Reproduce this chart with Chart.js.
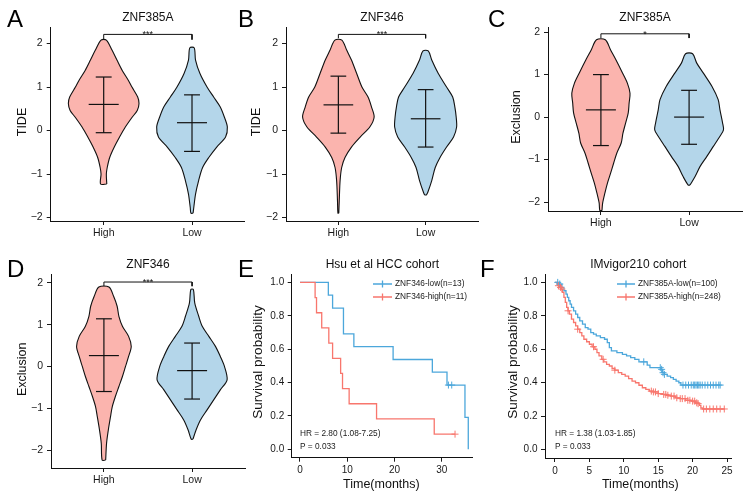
<!DOCTYPE html>
<html>
<head>
<meta charset="utf-8">
<script src="https://cdn.jsdelivr.net/npm/chart.js@4.4.1/dist/chart.umd.min.js"></script>
<style>
  html, body { margin: 0; padding: 0; background: #fff; }
  #wrap { position: relative; width: 751px; height: 496px; }
  #wrap canvas { position: absolute; left: 0; top: 0; }
</style>
</head>
<body>
<div id="wrap">
  <canvas id="cA" width="751" height="496"></canvas>
  <canvas id="cB" width="751" height="496"></canvas>
  <canvas id="cC" width="751" height="496"></canvas>
  <canvas id="cD" width="751" height="496"></canvas>
  <canvas id="cE" width="751" height="496"></canvas>
  <canvas id="cF" width="751" height="496"></canvas>
</div>
<script>
// ---- data ----
const groups = ["High", "Low"];
const violinYTicks = [-2, -1, 0, 1, 2];
const survYTicks = [0, 0.2, 0.4, 0.6, 0.8, 1.0];
const hsuXTicks = [0, 10, 20, 30];
const imvXTicks = [0, 5, 10, 15, 20, 25];

// violin outlines, bottom to top: [value, half width]
const tide385High = [[-1.23,0.035],[-1.0,0.03],[-0.85,0.04],[-0.62,0.068],[-0.38,0.12],[-0.15,0.18],[0.08,0.245],[0.3,0.32],[0.46,0.38],[0.62,0.40],[0.77,0.385],[1.0,0.32],[1.15,0.28],[1.38,0.21],[1.62,0.15],[1.85,0.094],[2.08,0.03]];
const tide385Low = [[-1.9,0.012],[-1.77,0.02],[-1.46,0.04],[-1.15,0.075],[-0.85,0.12],[-0.62,0.19],[-0.38,0.28],[-0.15,0.38],[0.08,0.40],[0.31,0.366],[0.54,0.32],[0.77,0.245],[1.0,0.17],[1.31,0.09],[1.62,0.04],[1.9,0.025]];
const tide346High = [[-1.9,0.005],[-1.62,0.01],[-1.15,0.02],[-0.85,0.038],[-0.62,0.076],[-0.38,0.15],[-0.15,0.25],[0.08,0.36],[0.31,0.41],[0.54,0.38],[0.77,0.34],[1.0,0.27],[1.31,0.21],[1.62,0.15],[1.85,0.095],[2.08,0.04]];
const tide346Low = [[-1.48,0.01],[-1.42,0.025],[-1.15,0.07],[-0.85,0.11],[-0.62,0.165],[-0.38,0.24],[-0.15,0.32],[0.08,0.355],[0.31,0.35],[0.54,0.335],[0.77,0.31],[1.0,0.24],[1.31,0.145],[1.62,0.07],[1.83,0.03]];
const excl385High = [[-2.2,0.012],[-2.02,0.02],[-1.79,0.045],[-1.55,0.075],[-1.32,0.11],[-1.08,0.145],[-0.85,0.18],[-0.61,0.23],[-0.38,0.25],[-0.14,0.28],[0.1,0.31],[0.33,0.32],[0.56,0.33],[0.8,0.30],[1.04,0.245],[1.35,0.17],[1.58,0.11],[1.82,0.05]];
const excl385Low = [[-1.6,0.01],[-1.4,0.068],[-1.16,0.125],[-0.93,0.2],[-0.69,0.275],[-0.45,0.35],[-0.3,0.39],[-0.14,0.38],[0.17,0.35],[0.41,0.33],[0.72,0.26],[1.04,0.16],[1.27,0.087],[1.49,0.04]];
const excl346High = [[-2.24,0.02],[-1.84,0.03],[-1.52,0.05],[-1.2,0.075],[-0.96,0.095],[-0.72,0.13],[-0.48,0.17],[-0.24,0.21],[0.0,0.245],[0.24,0.28],[0.48,0.31],[0.72,0.28],[0.96,0.21],[1.2,0.17],[1.44,0.15],[1.68,0.11],[1.9,0.057]];
const excl346Low = [[-1.74,0.01],[-1.52,0.045],[-1.28,0.095],[-1.04,0.17],[-0.8,0.245],[-0.56,0.32],[-0.32,0.397],[0.0,0.367],[0.24,0.32],[0.48,0.265],[0.72,0.19],[0.96,0.115],[1.2,0.075],[1.52,0.03],[1.84,0.015]];

// mean and mean +/- sd, [High, Low]
const tide385Mean = [0.6, 0.18],  tide385Upper = [1.23, 0.82],  tide385Lower = [-0.05, -0.48];
const tide346Mean = [0.59, 0.27], tide346Upper = [1.25, 0.94],  tide346Lower = [-0.06, -0.38];
const excl385Mean = [0.17, 0.0],  excl385Upper = [1.0, 0.63],   excl385Lower = [-0.67, -0.64];
const excl346Mean = [0.26, -0.1], excl346Upper = [1.14, 0.56],  excl346Lower = [-0.6, -0.78];

// Hsu et al HCC cohort
const hsuLowT  = [0, 6.0, 6.9, 9.2, 11.4, 19.7, 28.0, 31.1, 34.9, 35.6];
const hsuLowS  = [1, 0.923, 0.846, 0.692, 0.615, 0.538, 0.462, 0.385, 0.192, 0];
const hsuLowCensor = [31.4, 32.1];
const hsuHighT = [0, 3.2, 3.5, 4.6, 6.1, 6.9, 8.6, 9.0, 10.4, 16.2, 28.4, 32.8];
const hsuHighS = [1, 0.909, 0.818, 0.727, 0.636, 0.545, 0.455, 0.364, 0.273, 0.182, 0.091, 0.091];
const hsuHighCensor = [32.8];
const hsuLabels = ["ZNF346-low(n=13)", "ZNF346-high(n=11)"];
const hsuStats = ["HR = 2.80 (1.08-7.25)", "P = 0.033"];

// IMvigor210 cohort
const imvLowT = [0,0.6,1.0,1.3,1.6,1.8,2.0,2.2,2.4,2.7,3.0,3.3,3.6,4.0,4.4,4.8,5.2,5.6,6.0,6.6,7.2,7.6,7.9,8.2,9.0,9.8,10.4,11.0,11.6,12.2,13.4,13.8,15.4,15.6,15.9,16.3,16.8,17.2,17.6,18.0,18.3,24.0];
const imvLowS = [1,0.99,0.97,0.95,0.93,0.91,0.89,0.87,0.85,0.83,0.81,0.79,0.77,0.75,0.73,0.72,0.70,0.69,0.68,0.67,0.66,0.64,0.61,0.59,0.58,0.57,0.56,0.55,0.54,0.525,0.505,0.49,0.48,0.46,0.45,0.44,0.43,0.42,0.41,0.40,0.386,0.386];
const imvLowCensor = [0.4,0.7,12.9,15.3,15.5,15.7,15.9,18.6,19.0,19.4,19.8,20.1,20.3,20.5,20.7,20.9,21.1,21.4,21.8,22.2,22.6,23.0,23.4,23.8,24.0];
const imvHighT = [0,0.3,0.5,0.7,0.9,1.1,1.3,1.5,1.7,1.9,2.1,2.4,2.7,3.0,3.3,3.6,3.9,4.2,4.6,5.0,5.4,5.8,6.1,6.4,6.8,7.1,7.5,7.9,8.3,8.7,9.2,9.7,10.2,10.7,11.2,11.7,12.2,12.7,13.2,13.7,14.3,15.0,15.6,16.2,16.8,17.5,18.2,19.0,19.8,20.4,20.8,21.0,21.2,21.4,24.7];
const imvHighS = [1,0.99,0.98,0.97,0.96,0.94,0.91,0.88,0.85,0.83,0.81,0.78,0.76,0.74,0.72,0.70,0.68,0.66,0.645,0.63,0.615,0.60,0.58,0.56,0.54,0.525,0.51,0.50,0.485,0.475,0.46,0.45,0.44,0.425,0.41,0.40,0.385,0.37,0.36,0.35,0.345,0.335,0.33,0.325,0.32,0.31,0.305,0.295,0.29,0.28,0.275,0.265,0.25,0.243,0.243];
const imvHighCensor = [0.5,0.8,1.0,1.9,3.3,5.6,7.0,8.7,14.0,14.3,14.6,15.0,15.8,16.1,16.4,16.9,17.3,17.7,18.2,18.5,18.9,19.3,19.6,20.0,20.3,20.6,20.8,21.6,22.0,22.5,23.0,23.5,24.0,24.6];
const imvLabels = ["ZNF385A-low(n=100)", "ZNF385A-high(n=248)"];
const imvStats = ["HR = 1.38 (1.03-1.85)", "P = 0.033"];

// ---- drawing ----
const FONT = '"Liberation Sans", Arial, Helvetica, sans-serif';
const PAGE_W = 751, PAGE_H = 496;
const Y_AXIS_W = 40, X_AXIS_H = 24;
const PINK = "#FBB4AE", LIGHTBLUE = "#B4D6EA";
const RED = "#F8766D", BLUE = "#4CA7DB";
const INK = "#111", TICK_INK = "#1a1a1a";
const CAP = 0.09, MEAN_W = 0.17;

function txt(ctx, s, x, y, o) {
  ctx.save();
  ctx.font = o.size + "px " + FONT;
  ctx.fillStyle = o.color || INK;
  ctx.textAlign = o.align || "center";
  ctx.textBaseline = o.base || "middle";
  ctx.translate(x, y);
  if (o.rot) ctx.rotate(o.rot);
  ctx.fillText(s, 0, 0);
  ctx.restore();
}

function axis(min, max, ticks, fmt, size, isX, padding) {
  return {
    type: "linear", min: min, max: max,
    afterBuildTicks: s => { s.ticks = ticks.map(v => ({ value: v })); },
    ticks: { callback: fmt, font: { family: FONT, size: size }, color: TICK_INK, padding: padding, autoSkip: false, maxRotation: 0 },
    grid: { drawOnChartArea: false, drawTicks: true, tickLength: 4, color: TICK_INK, lineWidth: 1 },
    border: { display: true, color: INK, width: 1 },
    afterFit: s => { if (isX) s.height = X_AXIS_H; else s.width = Y_AXIS_W; }
  };
}

function padFor(a) {
  return { left: a.l - Y_AXIS_W, top: a.t, right: PAGE_W - a.r, bottom: PAGE_H - a.b - X_AXIS_H };
}

function seg(points, width) {
  return { data: points, showLine: true, borderColor: INK, borderWidth: width || 1.2, pointRadius: 0, pointHoverRadius: 0, fill: false, clip: false, order: 1 };
}

function violinSet(outline, center, color) {
  const right = outline.map(p => ({ x: center + p[1], y: p[0] }));
  const left = outline.slice().reverse().map(p => ({ x: center - p[1], y: p[0] }));
  const pts = right.concat(left);
  pts.push(pts[0]);
  return { data: pts, showLine: true, tension: 0.3, borderColor: INK, borderWidth: 1.1, backgroundColor: color,
           fill: "shape", pointRadius: 0, pointHoverRadius: 0, clip: false, order: 3 };
}

const minus = v => (v < 0 ? "\u2212" + Math.abs(v) : String(v));

function violinChart(id, p) {
  const sets = [violinSet(p.outlines[0], 1, PINK), violinSet(p.outlines[1], 2, LIGHTBLUE)];
  groups.forEach((g, i) => {
    const c = i + 1;
    sets.push(seg([{ x: c, y: p.lower[i] }, { x: c, y: p.upper[i] }]));
    sets.push(seg([{ x: c - CAP, y: p.upper[i] }, { x: c + CAP, y: p.upper[i] }]));
    sets.push(seg([{ x: c - CAP, y: p.lower[i] }, { x: c + CAP, y: p.lower[i] }]));
    sets.push(seg([{ x: c - MEAN_W, y: p.mean[i] }, { x: c + MEAN_W, y: p.mean[i] }]));
  });
  sets.push(seg([{ x: 1, y: p.bracket[1] }, { x: 1, y: p.bracket[0] }, { x: 2, y: p.bracket[0] }, { x: 2, y: p.bracket[1] }], 1));

  const a = p.area;
  new Chart(document.getElementById(id), {
    type: "scatter",
    data: { datasets: sets },
    options: {
      responsive: false, animation: false, devicePixelRatio: 1, events: [],
      layout: { padding: padFor(a) },
      plugins: { legend: { display: false }, tooltip: { enabled: false } },
      scales: {
        x: axis(0.4, 2.6, [1, 2], v => groups[Math.round(v) - 1], 10.5, true, 2),
        y: axis(p.yMin, p.yMax, violinYTicks, minus, 10.5, false, 4)
      }
    },
    plugins: [{
      id: "panelText",
      afterDraw(chart) {
        const ctx = chart.ctx, ca = chart.chartArea;
        const cx = (ca.left + ca.right) / 2;
        txt(ctx, p.title, cx, ca.top - 9.5, { size: 12 });
        txt(ctx, p.yTitle, a.l - p.yTitleOff, (ca.top + ca.bottom) / 2 - 2, { size: 12.5, rot: -Math.PI / 2 });
        const sx = (chart.scales.x.getPixelForValue(1) + chart.scales.x.getPixelForValue(2)) / 2;
        txt(ctx, p.sig, sx, chart.scales.y.getPixelForValue(p.bracket[0]) + 3, { size: 9, base: "alphabetic" });
        txt(ctx, p.letter, p.letterXY[0], p.letterXY[1], { size: 24, align: "left", base: "alphabetic", color: "#000" });
      }
    }]
  });
}

function survAt(t, s, x) {
  let v = s[0];
  for (let i = 0; i < t.length; i++) if (t[i] <= x) v = s[i];
  return v;
}

function kmLine(t, s, color) {
  return { data: t.map((x, i) => ({ x: x, y: s[i] })), showLine: true, stepped: true, borderColor: color, borderWidth: 1.3,
           pointRadius: 0, pointHoverRadius: 0, fill: false, clip: false, order: 2 };
}
function kmCensor(times, t, s, color) {
  return { data: times.map(x => ({ x: x, y: survAt(t, s, x) })), showLine: false, pointStyle: "cross", pointRadius: 3.5,
           pointHoverRadius: 3.5, borderColor: color, borderWidth: 1, clip: false, order: 1 };
}

function legendEntry(ctx, x1, x2, y, color, label) {
  ctx.save();
  ctx.strokeStyle = color;
  ctx.lineWidth = 1.3;
  ctx.beginPath();
  ctx.moveTo(x1, y); ctx.lineTo(x2, y);
  const xm = (x1 + x2) / 2;
  ctx.moveTo(xm, y - 3.5); ctx.lineTo(xm, y + 3.5);
  ctx.stroke();
  ctx.restore();
  txt(ctx, label, x2 + 3, y, { size: 8.3, align: "left", color: TICK_INK });
}

function kmChart(id, p) {
  const a = p.area;
  new Chart(document.getElementById(id), {
    type: "scatter",
    data: {
      datasets: [
        kmCensor(p.highCensor, p.highT, p.highS, RED),
        kmLine(p.highT, p.highS, RED),
        kmCensor(p.lowCensor, p.lowT, p.lowS, BLUE),
        kmLine(p.lowT, p.lowS, BLUE)
      ]
    },
    options: {
      responsive: false, animation: false, devicePixelRatio: 1, events: [],
      layout: { padding: padFor(a) },
      plugins: { legend: { display: false }, tooltip: { enabled: false } },
      scales: {
        x: axis(p.xMin, p.xMax, p.xTicks, v => String(v), 10, true, 3),
        y: axis(-0.05, 1.05, survYTicks, v => v.toFixed(1), 10, false, 3.5)
      }
    },
    plugins: [{
      id: "panelText",
      afterDraw(chart) {
        const ctx = chart.ctx, ca = chart.chartArea;
        const cx = (ca.left + ca.right) / 2;
        txt(ctx, p.title, cx, 265, { size: 12 });
        txt(ctx, "Survival probability", p.yTitleX, 362, { size: 13.5, rot: -Math.PI / 2 });
        txt(ctx, "Time(months)", cx + p.xTitleShift, 485, { size: 12.5 });
        legendEntry(ctx, p.legendX[0], p.legendX[1], 284, BLUE, p.labels[0]);
        legendEntry(ctx, p.legendX[0], p.legendX[1], 297, RED, p.labels[1]);
        const sx = chart.scales.x.getPixelForValue(0);
        txt(ctx, p.stats[0], sx, 434, { size: 8.3, align: "left", color: TICK_INK });
        txt(ctx, p.stats[1], sx, 447, { size: 8.3, align: "left", color: TICK_INK });
        txt(ctx, p.letter, p.letterXY[0], p.letterXY[1], { size: 24, align: "left", base: "alphabetic", color: "#000" });
      }
    }]
  });
}

violinChart("cA", {
  area: { l: 50.7, t: 27, r: 245, b: 221 }, yMin: -2.08, yMax: 2.38,
  outlines: [tide385High, tide385Low], mean: tide385Mean, upper: tide385Upper, lower: tide385Lower,
  bracket: [2.21, 2.09], sig: "***", title: "ZNF385A", yTitle: "TIDE", yTitleOff: 28,
  letter: "A", letterXY: [7, 27]
});
violinChart("cB", {
  area: { l: 286, t: 27, r: 478, b: 221 }, yMin: -2.08, yMax: 2.38,
  outlines: [tide346High, tide346Low], mean: tide346Mean, upper: tide346Upper, lower: tide346Lower,
  bracket: [2.21, 2.12], sig: "***", title: "ZNF346", yTitle: "TIDE", yTitleOff: 29,
  letter: "B", letterXY: [238, 27]
});
violinChart("cC", {
  area: { l: 548, t: 27, r: 742, b: 211 }, yMin: -2.21, yMax: 2.12,
  outlines: [excl385High, excl385Low], mean: excl385Mean, upper: excl385Upper, lower: excl385Lower,
  bracket: [1.96, 1.86], sig: "*", title: "ZNF385A", yTitle: "Exclusion", yTitleOff: 31,
  letter: "C", letterXY: [488, 27]
});
violinChart("cD", {
  area: { l: 51, t: 274.5, r: 245, b: 468 }, yMin: -2.43, yMax: 2.2,
  outlines: [excl346High, excl346Low], mean: excl346Mean, upper: excl346Upper, lower: excl346Lower,
  bracket: [2.02, 1.92], sig: "***", title: "ZNF346", yTitle: "Exclusion", yTitleOff: 28,
  letter: "D", letterXY: [7, 277]
});
kmChart("cE", {
  area: { l: 291.7, t: 274, r: 473, b: 457.7 }, xMin: -1.75, xMax: 36.6, xTicks: hsuXTicks,
  lowT: hsuLowT, lowS: hsuLowS, lowCensor: hsuLowCensor,
  highT: hsuHighT, highS: hsuHighS, highCensor: hsuHighCensor,
  labels: hsuLabels, stats: hsuStats, title: "Hsu et al HCC cohort",
  yTitleX: 258, xTitleShift: -1, legendX: [373, 392],
  letter: "E", letterXY: [238, 277]
});
kmChart("cF", {
  area: { l: 545, t: 274, r: 731.5, b: 458 }, xMin: -1.45, xMax: 25.65, xTicks: imvXTicks,
  lowT: imvLowT, lowS: imvLowS, lowCensor: imvLowCensor,
  highT: imvHighT, highS: imvHighS, highCensor: imvHighCensor,
  labels: imvLabels, stats: imvStats, title: "IMvigor210 cohort",
  yTitleX: 513, xTitleShift: 2, legendX: [617, 635],
  letter: "F", letterXY: [480, 277]
});
</script>
</body>
</html>
